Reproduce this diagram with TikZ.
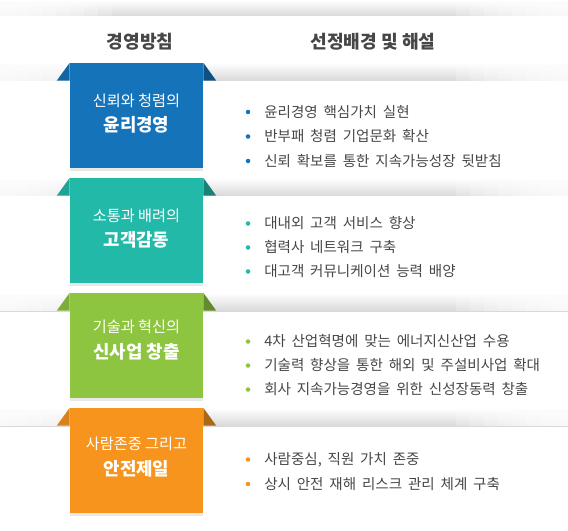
\documentclass[tikz,border=0pt]{standalone}
\usepackage{fontspec}
\setmainfont{Noto Sans CJK KR}
\newfontfamily\itemfont[WordSpace=1.8]{Noto Sans CJK KR}
\usetikzlibrary{shadows}

\definecolor{polblue}{HTML}{1473B9}
\definecolor{polteal}{HTML}{22B9A9}
\definecolor{polgreen}{HTML}{8DC540}
\definecolor{polorange}{HTML}{F7941E}
\definecolor{txtgray}{HTML}{464646}

\begin{document}
\begin{tikzpicture}[
  x=0.75pt,y=-0.75pt,
  strip/.style={top color=white,bottom color=black!15},
  policy/.style={minimum width=99.75pt,minimum height=78.75pt,inner sep=0pt,
    drop shadow={shadow xshift=0pt,shadow yshift=-2pt,opacity=.18}},
  caption/.style={align=center,text=white,inner sep=0pt},
  head/.style={text=txtgray,font=\fontsize{13.6}{16}\selectfont\bfseries},
  item/.style={anchor=west,inner sep=0pt,text=txtgray,
    font=\itemfont\fontsize{10.9}{12}\selectfont}
]
  \useasboundingbox (0,0) rectangle (568,531);

  % grey strips (header and the four bands), faded at both ends
  \foreach \t/\h in {0/16,63/18,178/18,293/18,408/18}{
    \shade[strip] (0,\t) rectangle (568,\t+\h);
    \foreach \k in {1,...,8}{
      \fill[white,opacity=.22] (0,\t) rectangle (14*\k,\t+\h);
      \fill[white,opacity=.22] (568-14*\k,\t) rectangle (568,\t+\h);
    }
  }

  % header
  \node[head] (h1) at (140,42) {경영방침};
  \node[head] (h2) at (373,42) {선정배경 및 해설};

  % policy boxes
  \node[policy,fill=polblue] (b1) at (136.5,115.5) {};
  \node[policy,fill=polteal] (b2) at (136.5,230.5) {};
  \node[policy,fill=polgreen] (b3) at (136.5,345.5) {};
  \node[policy,fill=polorange] (b4) at (136.5,460.5) {};

  \fill[polblue!88!black] (b1.north west) -- ++(-13,18) -- ++(13,0) -- cycle;
  \fill[polblue!70!black] (b1.north east) -- ++(13,18) -- ++(-13,0) -- cycle;
  \fill[polteal!88!black] (b2.north west) -- ++(-13,18) -- ++(13,0) -- cycle;
  \fill[polteal!70!black] (b2.north east) -- ++(13,18) -- ++(-13,0) -- cycle;
  \fill[polgreen!88!black] (b3.north west) -- ++(-13,18) -- ++(13,0) -- cycle;
  \fill[polgreen!70!black] (b3.north east) -- ++(13,18) -- ++(-13,0) -- cycle;
  \fill[polorange!88!black] (b4.north west) -- ++(-13,18) -- ++(13,0) -- cycle;
  \fill[polorange!70!black] (b4.north east) -- ++(13,18) -- ++(-13,0) -- cycle;

  \node[caption] (c1) at ([yshift=1.5pt]b1.center)
    {{\fontsize{11.4}{13}\selectfont 신뢰와 청렴의}\\[6pt]
     {\fontsize{13.4}{15}\selectfont\bfseries 윤리경영}};
  \node[caption] (c2) at ([yshift=1.5pt]b2.center)
    {{\fontsize{11.4}{13}\selectfont 소통과 배려의}\\[6pt]
     {\fontsize{13.4}{15}\selectfont\bfseries 고객감동}};
  \node[caption] (c3) at ([yshift=4pt]b3.center)
    {{\fontsize{11.4}{13}\selectfont 기술과 혁신의}\\[6pt]
     {\fontsize{13.4}{15}\selectfont\bfseries 신사업 창출}};
  \node[caption] (c4) at ([yshift=2.5pt]b4.center)
    {{\fontsize{11.4}{13}\selectfont 사람존중 그리고}\\[6pt]
     {\fontsize{13.4}{15}\selectfont\bfseries 안전제일}};

  % explanations
  \node[item] (e1a) at (264,112) {윤리경영 핵심가치 실현};
  \node[item] (e1b) at (264,136.5) {반부패 청렴 기업문화 확산};
  \node[item] (e1c) at (264,161) {신뢰 확보를 통한 지속가능성장 뒷받침};
  \node[item] (e2a) at (264,223.5) {대내외 고객 서비스 향상};
  \node[item] (e2b) at (264,247.5) {협력사 네트워크 구축};
  \node[item] (e2c) at (264,271.5) {대고객 커뮤니케이션 능력 배양};
  \node[item] (e3a) at (264,341.5) {4차 산업혁명에 맞는 에너지신산업 수용};
  \node[item] (e3b) at (264,365.5) {기술력 향상을 통한 해외 및 주설비사업 확대};
  \node[item] (e3c) at (264,389.5) {회사 지속가능경영을 위한 신성장동력 창출};
  \node[item] (e4a) at (264,459.5) {사람중심, 직원 가치 존중};
  \node[item] (e4b) at (264,484) {상시 안전 재해 리스크 관리 체계 구축};

  \fill[polblue] ([xshift=-12pt]e1a.west) circle (1.7pt);
  \fill[polblue] ([xshift=-12pt]e1b.west) circle (1.7pt);
  \fill[polblue] ([xshift=-12pt]e1c.west) circle (1.7pt);
  \fill[polteal] ([xshift=-12pt]e2a.west) circle (1.7pt);
  \fill[polteal] ([xshift=-12pt]e2b.west) circle (1.7pt);
  \fill[polteal] ([xshift=-12pt]e2c.west) circle (1.7pt);
  \fill[polgreen] ([xshift=-12pt]e3a.west) circle (1.7pt);
  \fill[polgreen] ([xshift=-12pt]e3b.west) circle (1.7pt);
  \fill[polgreen] ([xshift=-12pt]e3c.west) circle (1.7pt);
  \fill[polorange] ([xshift=-12pt]e4a.west) circle (1.7pt);
  \fill[polorange] ([xshift=-12pt]e4b.west) circle (1.7pt);
\end{tikzpicture}
\end{document}
